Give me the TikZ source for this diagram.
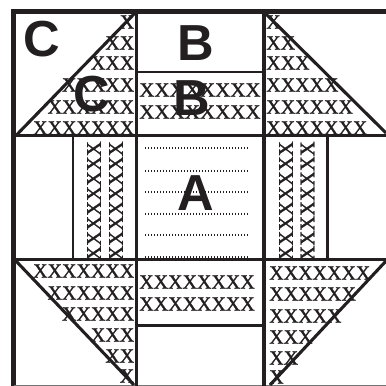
\documentclass[tikz,border=0pt]{standalone}
\usepackage{fontspec}
\setmainfont{Liberation Serif}
\newfontfamily\lettersf{Liberation Sans}
\newfontfamily\stitchsf{Liberation Serif}[FakeBold=1.2]
\definecolor{ink}{HTML}{231F20}
\tikzset{
  xrowl/.style={anchor=east,inner sep=0pt,text=ink,font=\stitchsf\fontsize{15}{15}\selectfont},
  xrowr/.style={anchor=west,inner sep=0pt,text=ink,font=\stitchsf\fontsize{15}{15}\selectfont},
  xcol/.style={rotate=90,inner sep=0pt,text=ink,font=\stitchsf\fontsize{15.5}{15.5}\selectfont},
  patchletter/.style={inner sep=0pt,text=ink,font=\lettersf\bfseries\fontsize{38}{38}\selectfont},
  dotrow/.style={ink,line width=1.25pt,dash pattern=on 1pt off 1.25pt}
}

\begin{document}
\begin{tikzpicture}[x=0.75pt,y=-0.75pt]
    \useasboundingbox (0,0) rectangle (386,386);
    \clip (0,0) rectangle (386,386);
    \fill[white] (0,0) rectangle (386,386);
    % stitched rows
    \foreach \y/\s in {22/X,43/XX,63/XXX,85/XXXXX,107/XXXXXX,128/XXXXXXX}
      \node[xrowl] (tl\y) at (134.5,\y) {\s};
    \foreach \y/\s in {22/X,43/XX,63/XXX,85/XXXXX,107/XXXXXX,128/XXXXXXX}
      \node[xrowr] (tr\y) at (266,\y) {\s};
    \foreach \y/\s in {271/XXXXXXX,293/XXXXXX,314/XXXXX,335/XXX,356/XX,376/X}
      \node[xrowl] (bl\y) at (134.5,\y) {\s};
    \foreach \y/\s in {273/XXXXXXX,294/XXXXXX,316/XXXXX,337/XXX,358/XX,377/X}
      \node[xrowr] (br\y) at (269,\y) {\s};
    \foreach \y in {90,112}
      \node[xrowr,xscale=1.05] (tm\y) at (139,\y) {XXXXXXXX};
    \foreach \y in {282,304}
      \node[xrowr] (bm\y) at (139,\y) {XXXXXXXX};
    \foreach \x in {94,116,286,307.5}
      \node[xcol] (col\x) at (\x,201) {XXXXXXXX};
    % dotted rows
    \foreach \y in {148,171,192,214,235,257}
      \draw[dotrow] (145,\y) -- (250,\y);
    % seams
    \draw[ink,line width=3.75pt] (13.5,386) -- (13.5,11) -- (386,11);
    \draw[black!55,line width=0.7pt] (13.5,385.8) -- (386,385.8);
    \draw[ink,line width=2.5pt] (13.5,135.5) -- (386,135.5);
    \draw[ink,line width=2.5pt] (13.5,259.5) -- (386,259.5);
    \draw[ink,line width=2.5pt] (136.5,11) -- (136.5,386);
    \draw[ink,line width=2.5pt] (264,11) -- (264,386);
    \draw[ink,line width=2.1pt] (73,135.5) -- (73,261);
    \draw[ink,line width=2.1pt] (327.7,135.5) -- (327.7,261);
    \draw[ink,line width=1.9pt] (136.5,72) -- (264,72);
    \draw[ink,line width=2.1pt] (136.5,325.5) -- (264,325.5);
    % triangles
    \draw[ink,line width=2.3pt] (16,135.5) -- (135,13);
    \draw[ink,line width=2.3pt] (266,14) -- (386,133);
    \draw[ink,line width=2.3pt] (16,261) -- (134,385);
    \draw[ink,line width=2.3pt] (386,261) -- (270,385);
    % letters
    \node[patchletter] (cone) at (42,39) {C};
    \node[patchletter] (ctwo) at (92,94) {C};
    \node[patchletter] (bone) at (196,43) {B};
    \node[patchletter] (btwo) at (192,98) {B};
    \node[patchletter] (aone) at (196,193) {A};
\end{tikzpicture}
\end{document}
